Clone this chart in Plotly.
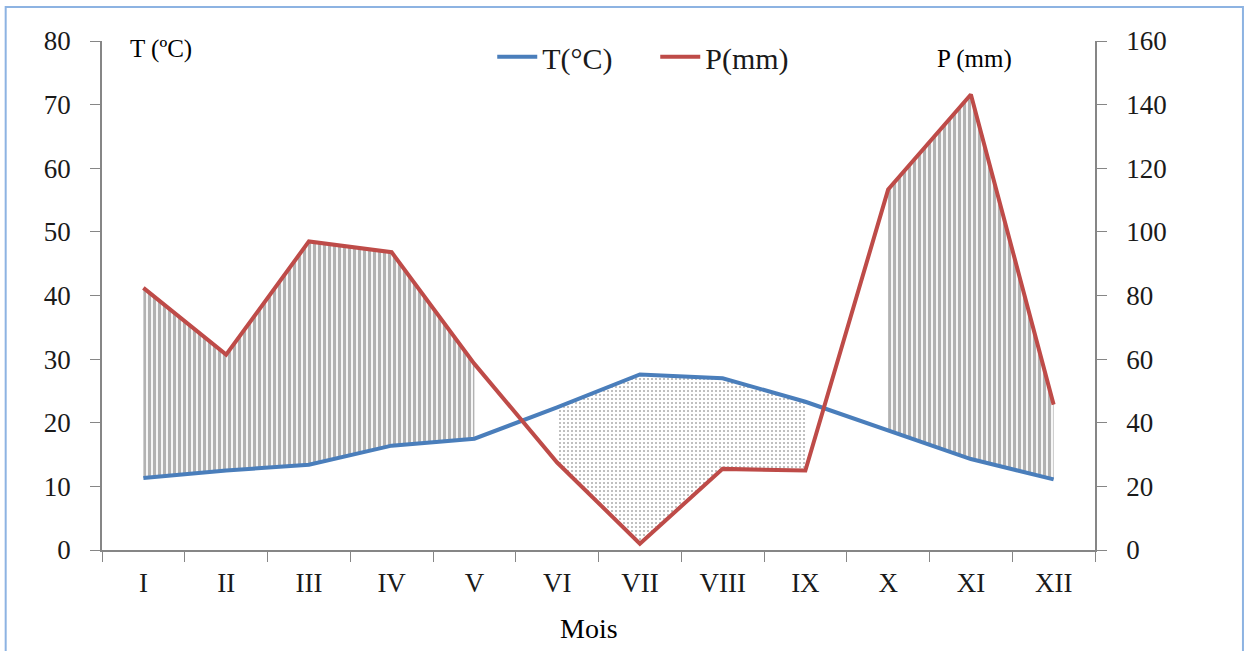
import plotly.graph_objects as go

months = ["I", "II", "III", "IV", "V", "VI", "VII", "VIII", "IX", "X", "XI", "XII"]
temp_c = [11.3, 12.5, 13.4, 16.4, 17.5, 22.4, 27.6, 27.0, 23.3, 18.8, 14.3, 11.1]
precip_mm = [82.4, 61.4, 97.0, 93.6, 58.5, 27.5, 2.0, 25.5, 25.0, 113.3, 143.2, 45.7]

humid1 = [0, 1, 2, 3, 4]
dry = [5, 6, 7, 8]
humid2 = [9, 10, 11]

FONT = "Times New Roman, Liberation Serif, serif"
GRAY = "#868686"
BLUE = "#4a7ebb"
RED = "#be4b48"


def band(idx, top, bottom):
    xs = [months[i] for i in idx] + [months[i] for i in reversed(idx)]
    ys = [top[i] for i in idx] + [bottom[i] for i in reversed(idx)]
    return xs, ys


# precipitation expressed on the temperature scale (P = 2T)
half_p = [p / 2 for p in precip_mm]

fig = go.Figure()

for idx in (humid1, humid2):
    xs, ys = band(idx, half_p, temp_c)
    fig.add_trace(go.Scatter(
        x=xs, y=ys, mode="lines", fill="toself",
        line=dict(width=0, color="rgba(0,0,0,0)"),
        fillcolor="white",
        fillpattern=dict(shape="|", size=5, solidity=0.65, fgcolor="#666666", bgcolor="white"),
        showlegend=False, hoverinfo="skip"))

xs, ys = band(dry, temp_c, half_p)
fig.add_trace(go.Scatter(
    x=xs, y=ys, mode="lines", fill="toself",
    line=dict(width=0, color="rgba(0,0,0,0)"),
    fillcolor="white",
    fillpattern=dict(shape=".", size=4, solidity=0.2, fgcolor="#555555", bgcolor="white"),
    showlegend=False, hoverinfo="skip"))

fig.add_trace(go.Scatter(x=months, y=temp_c, mode="lines", name="T(°C)",
                         line=dict(color=BLUE, width=4)))
fig.add_trace(go.Scatter(x=months, y=precip_mm, mode="lines", name="P(mm)", yaxis="y2",
                         line=dict(color=RED, width=4)))

fig.update_layout(
    width=1250, height=651,
    margin=dict(l=102, r=155, t=41, b=101),
    paper_bgcolor="white", plot_bgcolor="white",
    font=dict(family=FONT, color="#1a1a1a", size=26),
    xaxis=dict(type="category", categoryorder="array", categoryarray=months,
               tickson="boundaries", ticks="outside", ticklen=10, tickcolor=GRAY,
               showline=True, linecolor=GRAY, linewidth=1.5, showgrid=False,
               tickfont=dict(size=27, family=FONT), ticklabelstandoff=8,
               range=[-0.5, 11.5]),
    yaxis=dict(range=[0, 80], dtick=10, ticks="outside", ticklen=10, tickcolor=GRAY,
               showline=True, linecolor=GRAY, linewidth=1.5, showgrid=False, zeroline=False,
               tickfont=dict(size=27, family=FONT), ticklabelstandoff=14),
    yaxis2=dict(range=[0, 160], dtick=20, overlaying="y", side="right",
                ticks="outside", ticklen=10, tickcolor=GRAY,
                showline=True, linecolor=GRAY, linewidth=1.5, showgrid=False, zeroline=False,
                tickfont=dict(size=27, family=FONT), ticklabelstandoff=14),
    legend=dict(orientation="h", x=0.393, xanchor="left", y=1.02, yanchor="top",
                font=dict(size=30, family=FONT), bgcolor="rgba(0,0,0,0)",
                itemwidth=40, tracegroupgap=0, entrywidth=108, entrywidthmode="pixels"),
    showlegend=True,
)

fig.add_annotation(text="T (ºC)", xref="paper", yref="paper", x=0.026, y=0.985,
                   xanchor="left", yanchor="middle", showarrow=False,
                   font=dict(size=25, family=FONT, color="black"))
fig.add_annotation(text="P (mm)", xref="paper", yref="paper", x=0.879, y=0.965,
                   xanchor="center", yanchor="middle", showarrow=False,
                   font=dict(size=25, family=FONT, color="black"))
fig.add_annotation(text="Mois", xref="paper", yref="paper", x=0.49, y=-0.155,
                   xanchor="center", yanchor="middle", showarrow=False,
                   font=dict(size=28, family=FONT, color="black"))

# outer chart frame
fig.add_shape(type="rect", xref="paper", yref="paper",
              x0=-0.097, x1=1.149, y0=-0.3, y1=1.067,
              line=dict(color="#8db3e2", width=2), fillcolor="rgba(0,0,0,0)", layer="below")

fig.write_html("out.html")
